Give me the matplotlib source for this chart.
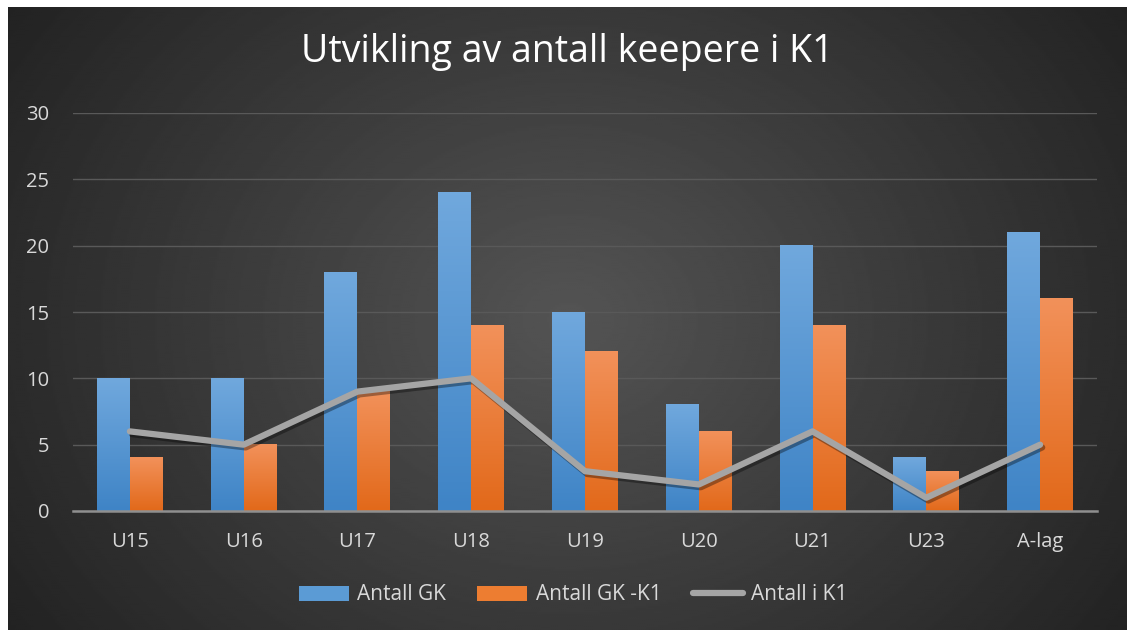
import numpy as np
import matplotlib.pyplot as plt
from matplotlib.patches import Patch
from matplotlib.lines import Line2D
from matplotlib.colors import LinearSegmentedColormap
import matplotlib.patheffects as pe

categories = ['U15', 'U16', 'U17', 'U18', 'U19', 'U20', 'U21', 'U23', 'A-lag']
antall_gk = [10, 10, 18, 24, 15, 8, 20, 4, 21]
antall_gk_k1 = [4, 5, 9, 14, 12, 6, 14, 3, 16]
antall_i_k1 = [6, 5, 9, 10, 3, 2, 6, 1, 5]

plt.rcParams['font.family'] = ['Open Sans', 'DejaVu Sans']

W, H = 1127, 630
fig = plt.figure(figsize=(W / 100, H / 100), dpi=100, facecolor='white')

# radial dark background
bg = fig.add_axes([8 / W, 0, 1 - 8 / W, 1 - 7 / H])
yy, xx = np.mgrid[0:300, 0:560]
r = np.sqrt(((xx - 280) / 330) ** 2 + ((yy - 150) / 260) ** 2)
shade = np.clip(0.33 - 0.19 * r, 0.12, 0.33)
bg.imshow(shade, cmap='gray', vmin=0, vmax=1, aspect='auto', interpolation='bilinear')
bg.axis('off')

ax = fig.add_axes([73 / W, 1 - 511 / H, (1097 - 73) / W, (511 - 113) / H])
ax.set_facecolor('none')
x = np.arange(len(categories))
w = 0.29

blue_cm = LinearSegmentedColormap.from_list('b', ['#3f84c6', '#70a8dd'])
orange_cm = LinearSegmentedColormap.from_list('o', ['#e2691a', '#f2915a'])
grad = np.linspace(0, 1, 100).reshape(-1, 1)

for vals, off, cm in [(antall_gk, -w / 2, blue_cm), (antall_gk_k1, w / 2, orange_cm)]:
    bars = ax.bar(x + off, vals, width=w, color='none', zorder=2)
    for b in bars:
        x0, h = b.get_x(), b.get_height()
        ax.imshow(grad, cmap=cm, origin='lower', aspect='auto',
                  extent=(x0, x0 + w, 0, h), zorder=2)

ax.plot(x, antall_i_k1, color='#a5a5a5', lw=4.5, solid_capstyle='round',
        solid_joinstyle='round', zorder=3,
        path_effects=[pe.SimpleLineShadow(offset=(1.5, -2), alpha=0.35, shadow_color='black'),
                      pe.Normal()])

ax.set_xlim(-0.5, len(categories) - 0.5)
ax.set_ylim(0, 30)
ax.set_yticks(range(0, 31, 5))
ax.set_xticks(x)
ax.set_xticklabels(categories)
ax.grid(axis='y', color='#595959', lw=1)
ax.set_axisbelow(True)
for s in ['top', 'right', 'left']:
    ax.spines[s].set_visible(False)
ax.spines['bottom'].set_color('#8f8f8f')
ax.spines['bottom'].set_linewidth(1.8)
ax.spines['bottom'].set_zorder(4)
ax.tick_params(axis='both', length=0, colors='#d9d9d9', labelsize=14.5)
ax.tick_params(axis='x', pad=15)
ax.tick_params(axis='y', pad=17)

fig.text(567 / W, 1 - 52 / H, 'Utvikling av antall keepere i K1', ha='center', va='center',
         color='white', fontsize=27)

handles = [Patch(facecolor='#5b9bd5'), Patch(facecolor='#ed7d31'),
           Line2D([], [], color='#a5a5a5', lw=4.5, solid_capstyle='round')]
fig.legend(handles, ['Antall GK', 'Antall GK -K1', 'Antall i K1'], loc='center',
           bbox_to_anchor=(573 / W, 1 - 595 / H), ncol=3, frameon=False, fontsize=15,
           labelcolor='#d9d9d9', handlelength=2.4, handletextpad=0.4, columnspacing=1.5)

fig.savefig('out.png', dpi=100, facecolor='white')
